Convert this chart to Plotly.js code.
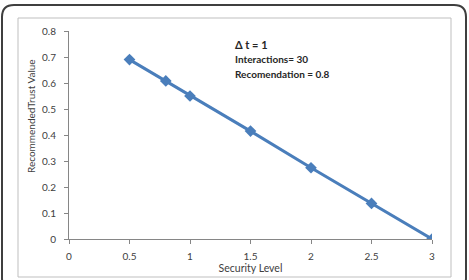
<!DOCTYPE html>
<html><head><meta charset="utf-8">
<script src="https://cdn.plot.ly/plotly-3.0.1.min.js"></script>
<style>html,body{margin:0;padding:0;background:#fff}#c{width:469px;height:280px}</style>
</head><body><div id="c"></div>
<script>
const securityLevel = [0.5, 0.8, 1, 1.5, 2, 2.5, 3];
const trustValue = [0.69, 0.608, 0.55, 0.415, 0.274, 0.137, 0.0];
const xTicks = [0, 0.5, 1, 1.5, 2, 2.5, 3];
const yTicks = [0, 0.1, 0.2, 0.3, 0.4, 0.5, 0.6, 0.7, 0.8];
const noteLines = ["<b>Δ t = 1</b>", "<b>Interactions= 30</b>", "<b>Recomendation = 0.8</b>"];
const xTitle = "Security Level";
const yTitle = "RecommendedTrust Value";

const L = 69, T = 31, W = 363, H = 208;
const px = x => (x - L) / W;
const py = y => (T + H - y) / H;
function roundRect(x0, y0, x1, y1, r) {
  const rx = r / W, ry = r / H;
  const a = px(x0), b = px(x1), top = py(y0), bot = py(y1);
  return `M ${a+rx},${top} L ${b-rx},${top} Q ${b},${top} ${b},${top-ry} L ${b},${bot+ry} Q ${b},${bot} ${b-rx},${bot} L ${a+rx},${bot} Q ${a},${bot} ${a},${bot+ry} L ${a},${top-ry} Q ${a},${top} ${a+rx},${top} Z`;
}

const font = "Lato, sans-serif";
const grey = '#404040';
const trace = {
  x: securityLevel, y: trustValue, type: 'scatter', mode: 'lines+markers',
  line: {color: '#4a7ebb', width: 3},
  marker: {symbol: 'diamond', size: 9, color: '#4a7ebb'},
  hoverinfo: 'none', showlegend: false
};
const annotations = noteLines.map((t, i) => ({
  xref: 'paper', yref: 'paper', x: px(233), y: py(44 + i * 15), xanchor: 'left', yanchor: 'middle',
  text: t, showarrow: false, font: {family: font, size: i === 0 ? 11 : 10, color: '#262626'}
}));
annotations.push({
  xref: 'paper', yref: 'paper', x: px(31), y: py(116), xanchor: 'center', yanchor: 'middle',
  text: yTitle, textangle: -90, showarrow: false, font: {family: font, size: 10, color: grey}
});
const layout = {
  width: 469, height: 280,
  margin: {l: L, r: 469 - L - W, t: T, b: 280 - T - H},
  paper_bgcolor: '#fff', plot_bgcolor: '#fff',
  font: {family: font, size: 10, color: grey},
  xaxis: {
    range: [0, 3], tickvals: xTicks, ticktext: xTicks.map(String),
    showgrid: false, zeroline: false, showline: true, linecolor: '#868686', linewidth: 1,
    ticks: 'outside', ticklen: 4, tickcolor: '#868686', ticklabelstandoff: 4,
    tickfont: {family: font, size: 10, color: grey},
    title: {text: xTitle, font: {family: font, size: 10.5, color: grey}, standoff: 2}
  },
  yaxis: {
    range: [0, 0.8], tickvals: yTicks, ticktext: yTicks.map(v => String(v)),
    showgrid: false, zeroline: false, showline: true, linecolor: '#868686', linewidth: 1,
    ticks: 'outside', ticklen: 4, tickcolor: '#868686', ticklabelstandoff: 6,
    tickfont: {family: font, size: 10, color: grey}
  },
  shapes: [
    {type: 'path', xref: 'paper', yref: 'paper', path: roundRect(2, 5, 466, 290, 12), line: {color: '#3f3f3f', width: 2}},
    {type: 'rect', xref: 'paper', yref: 'paper', x0: px(18), x1: px(451), y0: py(277), y1: py(18), line: {color: '#bfbfbf', width: 1}}
  ],
  annotations: annotations
};
Plotly.newPlot('c', [trace], layout, {staticPlot: true, displayModeBar: false});
</script></body></html>
